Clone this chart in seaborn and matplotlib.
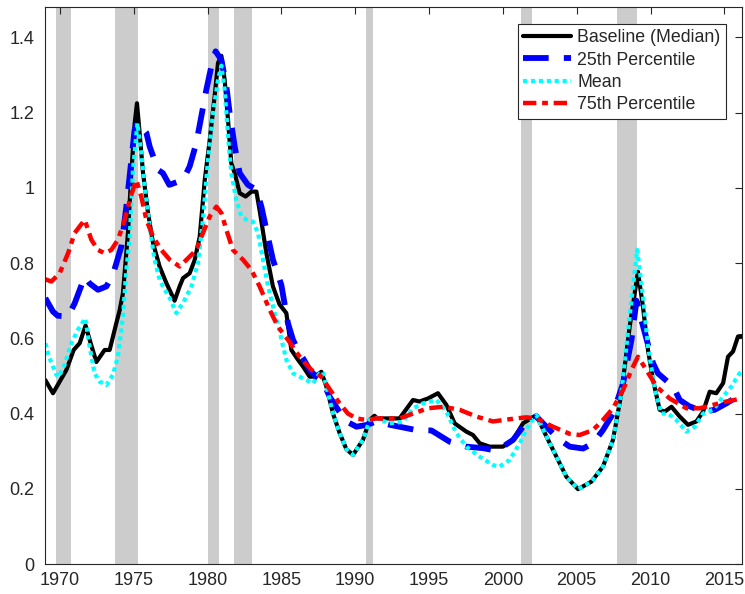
import matplotlib
matplotlib.use('Agg')
import matplotlib.pyplot as plt
import seaborn as sns

# recession bands (start, end) in fractional years
rec_start = [1969.75, 1973.75, 1980.0, 1981.75, 1990.75, 2001.25, 2007.75]
rec_end = [1970.75, 1975.25, 1980.75, 1983.0, 1991.2, 2002.0, 2009.1]

# Baseline (Median)
med_x = [1969.0, 1969.52, 1970.43, 1970.92, 1971.33, 1971.73, 1972.05, 1972.46, 1973.02, 1973.36,
         1973.81, 1974.04, 1974.26, 1974.6, 1974.83, 1975.05, 1975.21, 1975.39, 1975.62, 1975.96,
         1976.3, 1976.75, 1977.2, 1977.76, 1978.1, 1978.33, 1978.78, 1979.12, 1979.46, 1979.8,
         1980.14, 1980.47, 1980.7, 1980.93, 1981.15, 1981.38, 1981.6, 1981.83, 1982.17, 1982.57,
         1982.96, 1983.3, 1983.52, 1983.98, 1984.42, 1984.87, 1985.33, 1985.67, 1986.12, 1986.46,
         1986.91, 1987.25, 1987.7, 1988.04, 1988.49, 1988.94, 1989.4, 1989.85, 1990.52, 1990.97,
         1991.3, 1991.5, 1993.0, 1993.91, 1994.36, 1994.92, 1995.6, 1996.17, 1996.73, 1997.52,
         1997.97, 1998.43, 1999.1, 2000.0, 2000.69, 2001.36, 2002.27, 2002.95, 2003.63, 2004.3,
         2005.09, 2006.0, 2006.78, 2007.46, 2008.03, 2008.59, 2009.15, 2009.49, 2009.83, 2010.17,
         2010.62, 2010.96, 2011.42, 2011.98, 2012.54, 2013.11, 2013.56, 2014.01, 2014.46, 2014.92,
         2015.25, 2015.59, 2015.93, 2016.18]
med_y = [0.489, 0.454, 0.516, 0.569, 0.587, 0.634, 0.59, 0.537, 0.569, 0.569,
         0.64, 0.675, 0.72, 0.88, 1.04, 1.17, 1.225, 1.146, 1.04, 0.933,
         0.853, 0.79, 0.747, 0.70, 0.738, 0.76, 0.773, 0.808, 0.87, 1.02,
         1.128, 1.243, 1.332, 1.351, 1.287, 1.18, 1.066, 1.039, 0.986, 0.977,
         0.99, 0.99, 0.94, 0.826, 0.738, 0.69, 0.667, 0.569, 0.543, 0.525,
         0.498, 0.498, 0.511, 0.472, 0.40, 0.348, 0.305, 0.29, 0.33, 0.383,
         0.394, 0.387, 0.387, 0.436, 0.432, 0.44, 0.454, 0.423, 0.374, 0.352,
         0.343, 0.321, 0.312, 0.312, 0.33, 0.374, 0.396, 0.339, 0.285, 0.232,
         0.199, 0.219, 0.259, 0.33, 0.455, 0.631, 0.777, 0.684, 0.569, 0.489,
         0.41, 0.405, 0.418, 0.392, 0.37, 0.379, 0.405, 0.458, 0.454, 0.481,
         0.551, 0.565, 0.605, 0.606]

# 25th Percentile
p25_x = [1969.0, 1969.52, 1969.84, 1970.54, 1970.99, 1971.67, 1972.0, 1972.57, 1973.14, 1973.58,
         1974.15, 1974.49, 1974.83, 1975.05, 1975.24, 1975.85, 1976.07, 1976.63, 1976.97, 1977.4,
         1978.33, 1978.78, 1979.23, 1979.57, 1979.91, 1980.25, 1980.54, 1980.93, 1981.27, 1981.49,
         1981.83, 1982.17, 1982.73, 1983.3, 1983.64, 1983.98, 1984.42, 1984.99, 1985.44, 1985.78,
         1986.23, 1986.46, 1986.91, 1987.36, 1987.81, 1988.26, 1988.83, 1989.4, 1990.08, 1990.8,
         1991.43, 1992.34, 1994.14, 1995.16, 1996.4, 1997.53, 1998.65, 1999.33, 2000.0, 2000.69,
         2001.36, 2001.81, 2002.27, 2003.17, 2003.85, 2004.53, 2005.43, 2006.11, 2006.78, 2007.46,
         2008.14, 2008.71, 2009.05, 2009.38, 2010.17, 2010.5, 2011.53, 2011.98, 2012.6, 2013.56,
         2014.35, 2015.14, 2016.04, 2016.18]
p25_y = [0.707, 0.671, 0.66, 0.658, 0.693, 0.764, 0.746, 0.729, 0.738, 0.769,
         0.844, 0.95, 1.074, 1.154, 1.176, 1.146, 1.11, 1.048, 1.039, 1.008,
         1.021, 1.057, 1.119, 1.19, 1.261, 1.323, 1.363, 1.34, 1.269, 1.199,
         1.11, 1.039, 1.008, 0.995, 0.95, 0.888, 0.809, 0.742, 0.64, 0.596,
         0.56, 0.547, 0.516, 0.498, 0.485, 0.445, 0.41, 0.379, 0.365, 0.37,
         0.379, 0.37, 0.356, 0.355, 0.325, 0.312, 0.308, 0.303, 0.312, 0.33,
         0.365, 0.383, 0.392, 0.356, 0.33, 0.312, 0.307, 0.321, 0.356, 0.40,
         0.48, 0.596, 0.70, 0.649, 0.534, 0.507, 0.472, 0.436, 0.42, 0.405,
         0.41, 0.427, 0.449, 0.45]

# Mean
mean_x = [1969.0, 1969.25, 1969.75, 1969.9, 1970.3, 1970.77, 1971.2, 1971.71, 1972.0, 1972.34,
          1972.68, 1973.14, 1973.58, 1973.92, 1974.26, 1974.49, 1974.72, 1974.94, 1975.24, 1975.5,
          1975.73, 1976.07, 1976.4, 1976.75, 1976.97, 1977.43, 1977.88, 1978.44, 1978.9, 1979.34,
          1979.68, 1980.02, 1980.36, 1980.7, 1980.93, 1981.15, 1981.38, 1981.6, 1981.94, 1982.28,
          1982.66, 1983.07, 1983.41, 1983.75, 1984.09, 1984.54, 1984.87, 1985.0, 1985.33, 1985.78,
          1986.23, 1986.68, 1987.13, 1987.59, 1987.81, 1988.04, 1988.49, 1988.94, 1989.4, 1989.85,
          1990.52, 1990.97, 1991.3, 1992.3, 1993.23, 1993.91, 1994.59, 1995.5, 1996.17, 1996.85,
          1997.52, 1998.43, 1999.33, 1999.78, 2000.46, 2001.14, 2001.82, 2002.27, 2002.95, 2003.63,
          2004.3, 2005.09, 2006.0, 2006.78, 2007.46, 2008.03, 2008.59, 2009.1, 2009.49, 2009.83,
          2010.3, 2010.74, 2011.19, 2011.75, 2012.43, 2013.0, 2013.56, 2014.24, 2014.92, 2015.48,
          2016.04, 2016.18]
mean_y = [0.587, 0.551, 0.503, 0.497, 0.529, 0.587, 0.622, 0.653, 0.578, 0.507,
          0.485, 0.476, 0.503, 0.551, 0.658, 0.782, 0.87, 1.048, 1.172, 1.092,
          1.003, 0.897, 0.809, 0.755, 0.738, 0.707, 0.667, 0.702, 0.738, 0.80,
          0.915, 1.074, 1.199, 1.287, 1.325, 1.261, 1.137, 1.039, 0.968, 0.924,
          0.915, 0.91, 0.88, 0.809, 0.738, 0.667, 0.622, 0.596, 0.543, 0.507,
          0.498, 0.489, 0.48, 0.507, 0.511, 0.472, 0.40, 0.348, 0.305, 0.29,
          0.33, 0.383, 0.39, 0.374, 0.378, 0.414, 0.427, 0.436, 0.405, 0.348,
          0.312, 0.285, 0.263, 0.259, 0.277, 0.321, 0.374, 0.396, 0.339, 0.285,
          0.232, 0.199, 0.219, 0.259, 0.33, 0.455, 0.66, 0.835, 0.711, 0.578,
          0.463, 0.40, 0.40, 0.383, 0.352, 0.365, 0.40, 0.41, 0.445, 0.472,
          0.507, 0.51]

# 75th Percentile
p75_x = [1969.0, 1969.41, 1969.97, 1970.54, 1970.99, 1971.67, 1972.12, 1972.57, 1973.02, 1973.47,
         1973.92, 1974.38, 1974.78, 1975.17, 1975.5, 1975.85, 1976.3, 1976.86, 1977.43, 1978.1,
         1978.67, 1979.23, 1979.68, 1980.14, 1980.59, 1980.93, 1981.27, 1981.71, 1982.39, 1982.96,
         1983.52, 1984.2, 1984.76, 1985.44, 1986.23, 1987.03, 1987.7, 1988.38, 1988.94, 1989.5,
         1990.08, 1990.76, 1991.43, 1993.0, 1993.91, 1994.92, 1995.94, 1997.07, 1998.2, 1999.33,
         2000.46, 2001.59, 2002.27, 2003.39, 2004.53, 2005.2, 2006.1, 2006.78, 2007.46, 2008.14,
         2008.71, 2009.15, 2009.72, 2010.4, 2011.3, 2012.43, 2013.33, 2014.24, 2015.14, 2016.18]
p75_y = [0.757, 0.751, 0.773, 0.826, 0.88, 0.915, 0.862, 0.835, 0.826, 0.835,
         0.862, 0.915, 0.977, 1.021, 0.977, 0.915, 0.87, 0.835, 0.809, 0.791,
         0.813, 0.835, 0.88, 0.924, 0.95, 0.933, 0.888, 0.835, 0.809, 0.782,
         0.738, 0.676, 0.631, 0.596, 0.551, 0.516, 0.498, 0.458, 0.427, 0.40,
         0.387, 0.383, 0.387, 0.387, 0.40, 0.414, 0.418, 0.41, 0.392, 0.379,
         0.385, 0.39, 0.387, 0.365, 0.346, 0.343, 0.356, 0.383, 0.414, 0.463,
         0.516, 0.551, 0.516, 0.472, 0.44, 0.414, 0.414, 0.423, 0.432, 0.44]

xticks = [1970, 1975, 1980, 1985, 1990, 1995, 2000, 2005, 2010, 2015]
yticks = [0, 0.2, 0.4, 0.6, 0.8, 1.0, 1.2, 1.4]
ytick_labels = ['0', '0.2', '0.4', '0.6', '0.8', '1', '1.2', '1.4']

sns.set_style('white')
plt.rcParams['font.family'] = ['Liberation Sans', 'DejaVu Sans']
axis_col = '#262626'

fig = plt.figure(figsize=(7.45, 5.94), dpi=100)
ax = fig.add_axes([0.0608, 0.0505, 0.9356, 0.9372])

for s, e in zip(rec_start, rec_end):
    ax.axvspan(s, e, color='#cccccc', lw=0, zorder=0)

sns.lineplot(x=med_x, y=med_y, ax=ax, color='black', lw=3.0,
             label='Baseline (Median)', estimator=None, sort=False)
sns.lineplot(x=p25_x, y=p25_y, ax=ax, color='#0000ff', lw=4.2,
             label='25th Percentile', estimator=None, sort=False)
ax.lines[-1].set_dashes((4.4, 2.6))
sns.lineplot(x=mean_x, y=mean_y, ax=ax, color='#00ffff', lw=3.0,
             label='Mean', estimator=None, sort=False)
ax.lines[-1].set_dashes((1.0, 0.9))
sns.lineplot(x=p75_x, y=p75_y, ax=ax, color='#ff0000', lw=3.2,
             label='75th Percentile', estimator=None, sort=False)
ax.lines[-1].set_dashes((3.0, 1.3, 1.3, 1.3))

ax.set_xlim(1969, 2016.22)
ax.set_ylim(0, 1.48)
ax.set_xticks(xticks)
ax.set_yticks(yticks)
ax.set_yticklabels(ytick_labels)
ax.set_xlabel('')
ax.set_ylabel('')

for sp in ax.spines.values():
    sp.set_visible(True)
    sp.set_color(axis_col)
    sp.set_linewidth(0.8)
ax.tick_params(direction='in', length=5, width=0.8, colors=axis_col,
               labelsize=13, top=True, right=True, pad=6)
ax.tick_params(axis='y', pad=8)

leg = ax.legend(loc='upper right', bbox_to_anchor=(0.9766, 0.970), borderaxespad=0,
                fontsize=12.8, frameon=True, fancybox=False, framealpha=1,
                handlelength=2.7, handletextpad=0.35, labelspacing=0.3, borderpad=0.3)
leg.get_frame().set_edgecolor(axis_col)
leg.get_frame().set_linewidth(0.8)

fig.savefig('out.png', dpi=100)
